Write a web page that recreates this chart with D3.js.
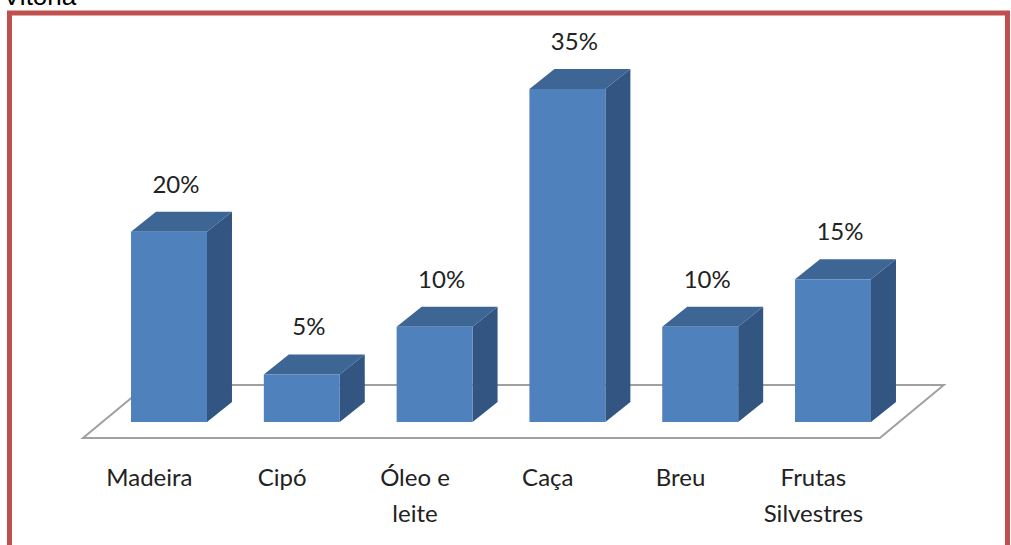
<!DOCTYPE html>
<html lang="pt">
<head>
<meta charset="UTF-8">
<title>Produtos extraídos</title>
<script src="https://cdnjs.cloudflare.com/ajax/libs/d3/7.8.5/d3.min.js"></script>
<style>
    body { margin: 0; background: #fff; }
    svg { display: block; }
    .lbl { font-family: Lato, "Open Sans", sans-serif; font-size: 24px; fill: #222; }
</style>
</head>
<body>
<div id="chart"></div>
<script>
    const categories = ['Madeira', 'Cipó', 'Óleo e\nleite', 'Caça', 'Breu', 'Frutas\nSilvestres'];
    const values = [20, 5, 10, 35, 10, 15];

    const width = 1011, height = 545;
    const depth = {dx: 25, dy: -20};       // bar depth
    const floorDepth = {dx: 64, dy: -53};  // floor depth
    const floorShift = {dx: -19.6, dy: 16}; // floor front relative to bar front

    const svg = d3.select('#chart').append('svg')
        .attr('width', width)
        .attr('height', height);

    // red frame + cut off title
    svg.append('rect')
        .attr('x', 9.5).attr('y', 13)
        .attr('width', 998).attr('height', 600)
        .attr('fill', 'none')
        .attr('stroke', '#c0504d')
        .attr('stroke-width', 5);

    svg.append('text')
        .attr('x', 3).attr('y', 5)
        .attr('font-family', '"Liberation Sans", Arial, sans-serif')
        .attr('font-size', 26)
        .attr('fill', '#000')
        .text('Vitória');

    const x = d3.scaleBand()
        .domain(categories)
        .range([102.6, 899.4])
        .paddingInner(0.428)
        .paddingOuter(0.214);

    const y = d3.scaleLinear()
        .domain([0, 35])
        .range([422, 89]);

    // floor
    const fx0 = x.range()[0] + floorShift.dx,
        fx1 = x.range()[1] + floorShift.dx,
        fy = y(0) + floorShift.dy;
    svg.append('polygon')
        .attr('points', [
            [fx0, fy], [fx1, fy],
            [fx1 + floorDepth.dx, fy + floorDepth.dy],
            [fx0 + floorDepth.dx, fy + floorDepth.dy]
        ].map(p => p.join(',')).join(' '))
        .attr('fill', '#fff')
        .attr('stroke', '#a0a0a0')
        .attr('stroke-width', 2);

    const data = categories.map((c, i) => ({cat: c, value: values[i]}));
    const bw = x.bandwidth();

    const bars = svg.selectAll('.bar')
        .data(data)
        .enter()
        .append('g')
        .attr('class', 'bar');

    // side face
    bars.append('polygon')
        .attr('points', d => {
            const x1 = x(d.cat) + bw, top = y(d.value), bot = y(0);
            return [[x1, bot], [x1 + depth.dx, bot + depth.dy], [x1 + depth.dx, top + depth.dy], [x1, top]]
                .map(p => p.join(',')).join(' ');
        })
        .attr('fill', '#325581');

    // top face
    bars.append('polygon')
        .attr('points', d => {
            const x0 = x(d.cat), x1 = x0 + bw, top = y(d.value);
            return [[x0, top], [x0 + depth.dx, top + depth.dy], [x1 + depth.dx, top + depth.dy], [x1, top]]
                .map(p => p.join(',')).join(' ');
        })
        .attr('fill', '#3d6695');

    // front face
    bars.append('rect')
        .attr('x', d => x(d.cat))
        .attr('y', d => y(d.value))
        .attr('width', bw)
        .attr('height', d => y(0) - y(d.value))
        .attr('fill', '#4f81bd');

    // value labels
    svg.selectAll('.val')
        .data(data)
        .enter()
        .append('text')
        .attr('class', 'lbl val')
        .attr('x', d => x(d.cat) + bw / 2 + 7)
        .attr('y', d => y(d.value) + depth.dy - 19)
        .attr('text-anchor', 'middle')
        .text(d => d.value + '%');

    // category labels
    const cats = svg.selectAll('.cat')
        .data(data)
        .enter()
        .append('text')
        .attr('class', 'lbl cat')
        .attr('text-anchor', 'middle');

    cats.selectAll('tspan')
        .data(d => d.cat.split('\n').map(t => ({t: t, cat: d.cat})))
        .enter()
        .append('tspan')
        .attr('x', d => x(d.cat) + bw / 2 + floorShift.dx)
        .attr('y', (d, i) => 486 + i * 36)
        .text(d => d.t);
</script>
</body>
</html>
